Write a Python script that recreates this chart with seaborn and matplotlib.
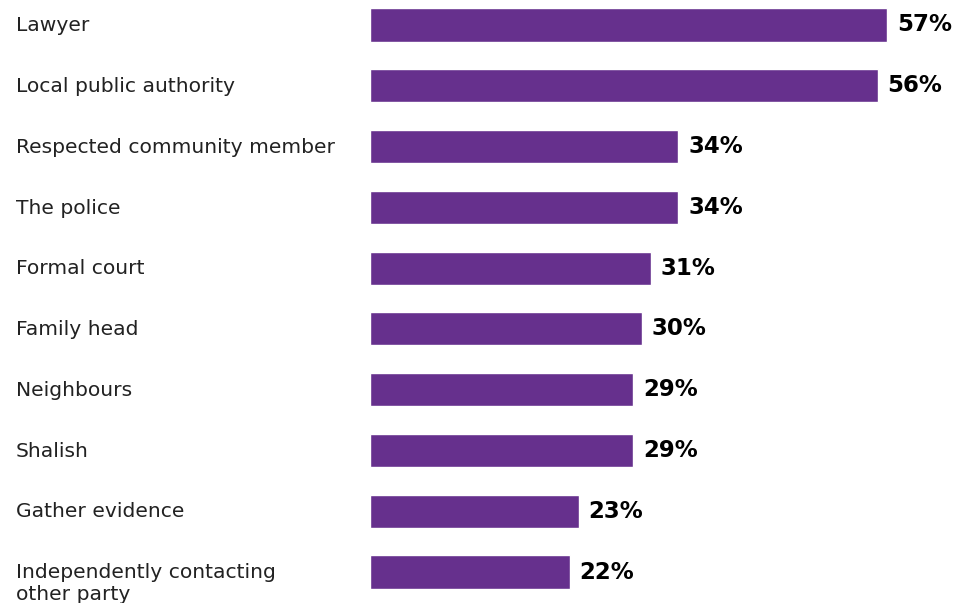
import matplotlib
matplotlib.use("Agg")
import matplotlib.pyplot as plt
import seaborn as sns
import pandas as pd

categories = ["Lawyer", "Local public authority", "Respected community member",
              "The police", "Formal court", "Family head", "Neighbours", "Shalish",
              "Gather evidence", "Independently contacting\nother party"]
values = [57, 56, 34, 34, 31, 30, 29, 29, 23, 22]
value_labels = ["57%", "56%", "34%", "34%", "31%", "30%", "29%", "29%", "23%", "22%"]

sns.set_style("white")
plt.rcParams['font.family'] = ['DejaVu Sans']

df = pd.DataFrame({"cat": categories, "val": values})

fig = plt.figure(figsize=(9.57, 6.03), dpi=100)
ax = fig.add_axes([370/957, 0, 1 - 370/957, 1])
sns.barplot(data=df, x="val", y="cat", color="#66308D", width=0.543,
            saturation=1, ax=ax, order=categories)

ax.set_xlim(0, 57 * 587 / 517)
ax.set_ylim(9 + 31 / 60.78, -25 / 60.78)
ax.set_axis_off()

for i, (cat, v, lab) in enumerate(zip(categories, values, value_labels)):
    for k, line in enumerate(cat.split("\n")):
        ax.annotate(line, xy=(16 / 957, i), xycoords=('figure fraction', 'data'),
                    xytext=(0, -4.5 - 15.3 * k), textcoords='offset points',
                    ha='left', va='baseline', fontsize=14.6, color='#222222')
    ax.annotate(lab, xy=(v, i), xycoords='data',
                xytext=(7, 0), textcoords='offset points',
                ha='left', va='center', fontsize=16.5, fontweight='bold',
                color='black')

fig.savefig("out.png", dpi=100)
